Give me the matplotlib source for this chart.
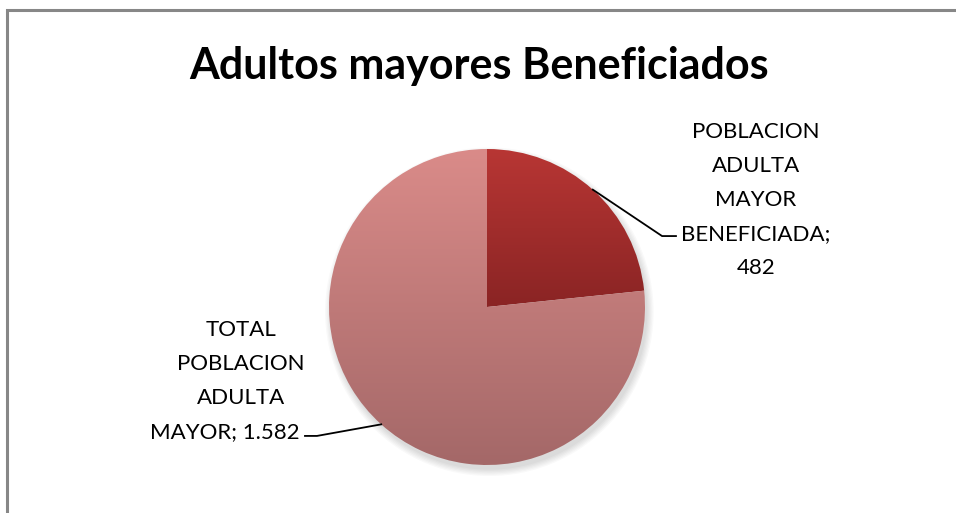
import numpy as np
import matplotlib
matplotlib.use('Agg')
import matplotlib.pyplot as plt
from matplotlib.colors import LinearSegmentedColormap
from matplotlib.patches import Circle, Rectangle

# data
labels = ['POBLACION\nADULTA\nMAYOR\nBENEFICIADA;\n482', 'TOTAL\nPOBLACION\nADULTA\nMAYOR; 1.582']
values = [482, 1582]
grad_top = ['#b83634', '#da8b89']
grad_bot = ['#8a2424', '#a46868']

W, H = 956, 513
fig = plt.figure(figsize=(W / 100, H / 100), dpi=100)
fig.patch.set_facecolor('white')

# chart border (right and bottom edges fall outside the picture)
fig.add_artist(Rectangle((7 / W, -0.5), 2, 1.5 - 10 / H, transform=fig.transFigure,
                         fill=False, edgecolor='#878787', lw=2.2))

fig.text(479 / W, 1 - 66 / H, 'Adultos mayores Beneficiados', ha='center', va='center',
         fontsize=31, fontweight='bold', family='Lato')

# pie axes: center (487, 307), radius 158 px
ax = fig.add_axes([329 / W, (H - 465) / H, 316 / W, 316 / H])
ax.set_xlim(-1, 1)
ax.set_ylim(-1, 1)
ax.set_aspect('equal')
ax.axis('off')

# soft shadow
for k in range(6):
    ax.add_patch(Circle((0.015, -0.03), 1.0 + 0.008 * k, color='k', alpha=0.025, zorder=0, lw=0, clip_on=False))

wedges, _ = ax.pie(values, startangle=90, counterclock=False, radius=1,
                   wedgeprops=dict(lw=0))
for w, c0, c1 in zip(wedges, grad_top, grad_bot):
    w.set_facecolor('none')
    cmap = LinearSegmentedColormap.from_list('g', [c1, c0])
    bb = w.get_path().get_extents()
    y0 = max(-1.0, bb.y0)
    y1 = min(1.0, bb.y1)
    grad = np.linspace(0, 1, 256).reshape(-1, 1)
    im = ax.imshow(grad, cmap=cmap, origin='lower', extent=[-1, 1, y0, y1],
                   aspect='auto', zorder=1, interpolation='bilinear')
    im.set_clip_path(w)
ax.set_xlim(-1, 1)
ax.set_ylim(-1, 1)

# leader lines
tot = sum(values)
a0 = 90
mids = []
for v in values:
    a1 = a0 - 360 * v / tot
    mids.append(np.deg2rad((a0 + a1) / 2))
    a0 = a1
m = mids[0]
ax.plot([np.cos(m), 1.108, 1.196], [np.sin(m), 0.449, 0.449], color='k', lw=1.3, clip_on=False, zorder=3)
m = mids[1]
ax.plot([np.cos(m), -1.076, -1.152], [np.sin(m), -0.816, -0.816], color='k', lw=1.3, clip_on=False, zorder=3)

# labels
fs = 16
ls = 1.87
fig.text(756 / W, 1 - 200 / H, labels[0], ha='center', va='center', fontsize=fs,
         family='Lato', linespacing=ls)
first3 = '\n'.join(labels[1].split('\n')[:3])
fig.text(241 / W, 1 - 364 / H, first3, ha='center', va='center', fontsize=fs,
         family='Lato', linespacing=ls)
fig.text(300 / W, 1 - 432 / H, labels[1].split('\n')[3], ha='right', va='center',
         fontsize=fs, family='Lato')

fig.savefig('out.png', dpi=100)
